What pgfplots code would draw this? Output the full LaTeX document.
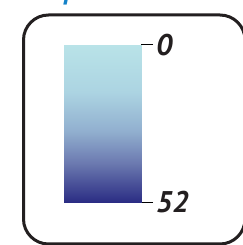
\documentclass[border=0pt]{standalone}
\usepackage{fontspec}
\setmainfont{PT Sans}
\usepackage{pgfplots}
\pgfplotsset{compat=1.18}
\definecolor{frame}{RGB}{35,31,32}
\definecolor{topblue}{RGB}{20,130,200}
\begin{document}
\begin{tikzpicture}[x=1bp,y=1bp]
\useasboundingbox (0,0) rectangle (243,245);
\clip (0,0) rectangle (243,245);
\node[anchor=base west, inner sep=0pt, text=topblue, font=\fontsize{28}{28}\selectfont\bfseries\itshape] at (64,246) {p};
\draw[frame, line width=3bp, rounded corners=25bp] (23.5,1) rectangle (245,230);
\begin{axis}[
  at={(64bp,43bp)}, anchor=south west,
  width=77bp, height=157bp, scale only axis,
  xmin=0, xmax=1, ymin=0, ymax=52, y dir=reverse,
  view={0}{90},
  axis x line=none, axis y line*=right,
  y axis line style={draw=none},
  xtick=\empty, ytick={0,52},
  tick align=outside, major tick length=12bp,
  ytick style={line width=1bp, black},
  yticklabel style={font=\fontsize{30}{30}\selectfont\bfseries\itshape, text=frame, inner sep=0pt, xshift=3bp},
  /pgf/number format/assume math mode=true,
  colormap={depth}{rgb255(0)=(185,227,232) rgb255(0.3)=(172,212,226) rgb255(0.55)=(145,175,207) rgb255(0.75)=(108,122,176) rgb255(1)=(43,45,132)},
  point meta min=0, point meta max=52,
]
\addplot[surf, shader=interp, mesh/cols=2, point meta=explicit] coordinates {
(0,0) [0] (1,0) [0]
(0,52) [52] (1,52) [52]
};
\end{axis}
\end{tikzpicture}
\end{document}
